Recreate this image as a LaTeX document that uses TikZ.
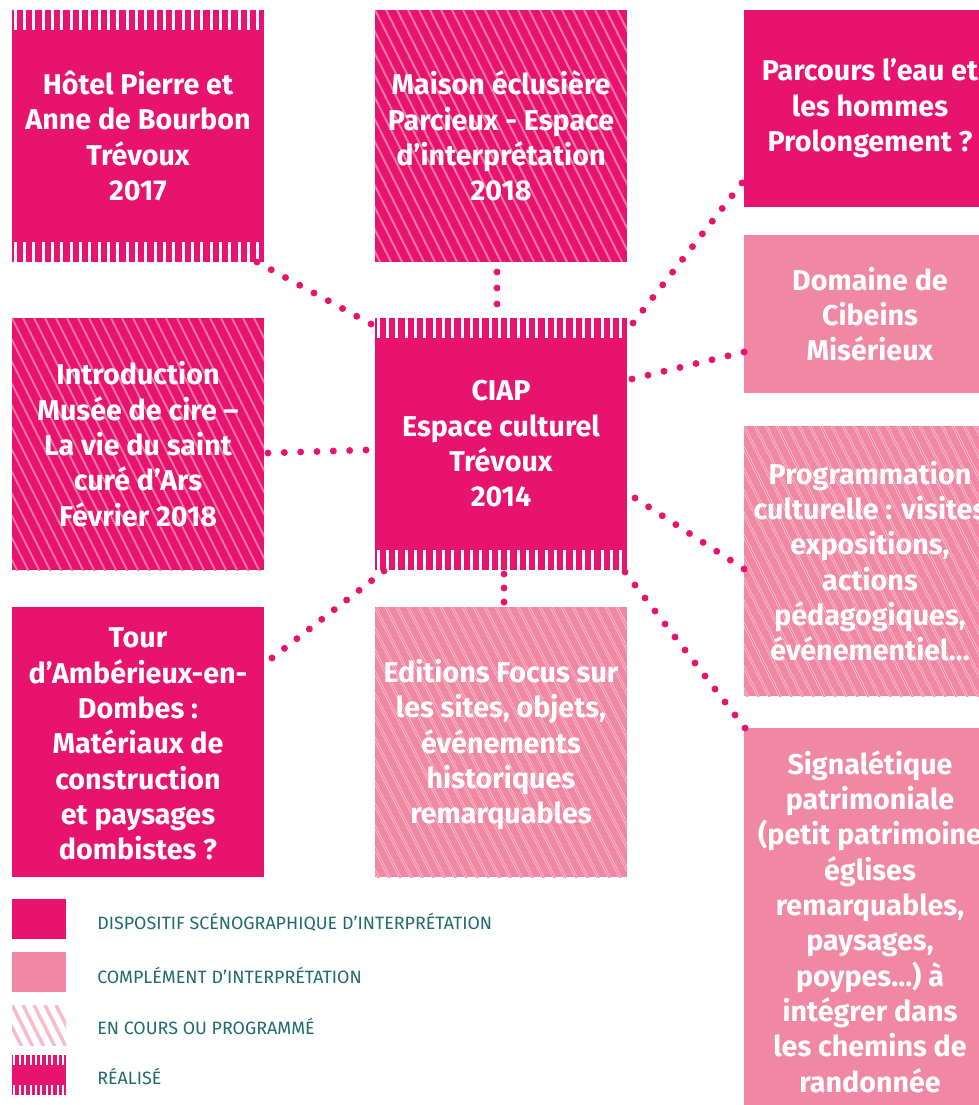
\documentclass[tikz,border=0pt]{standalone}
\usepackage{fontspec}
\setmainfont{Fira Sans}
\usetikzlibrary{calc}
\definecolor{pinkdark}{HTML}{E8126F}
\definecolor{pinklight}{HTML}{F088A3}
\definecolor{hatchondark}{HTML}{F2769F}
\definecolor{hatchlegend}{HTML}{F7BCCB}
\definecolor{legendtxt}{HTML}{1F6B70}
\tikzset{
  boxbase/.style={rectangle, inner sep=0pt, minimum width=189pt, draw=none},
  boxdark/.style={boxbase, fill=pinkdark},
  boxlight/.style={boxbase, fill=pinklight},
  boxtext/.style={align=center, text=white, inner sep=0pt,
    font=\bfseries\fontsize{21.5}{26.5}\selectfont},
  hatch/.style={path picture={
    \foreach \i in {-20,...,25}{
      \draw[#1] ([xshift=\i*8.25pt]path picture bounding box.north west) -- ++(160pt,-320pt);
    }}},
  hatchdarkbox/.style={hatch={hatchondark, line width=1.5pt}},
  hatchlightbox/.style={hatch={draw=white!55!pinklight, double=pinklight, double distance=0.9pt, line width=0.5pt}},
  fringe/.style={path picture={
    \foreach \k in {0,...,26}{
      \fill[white] ([xshift=\k*7pt+1.2pt]path picture bounding box.north west) rectangle ++(2.4pt,-15pt);
      \fill[white] ([xshift=\k*7pt+1.2pt]path picture bounding box.south west) rectangle ++(2.4pt,15pt);
    }}},
  fringesmall/.style={path picture={
    \foreach \k in {0,...,9}{
      \fill[white] ([xshift=\k*4.05pt+1pt]path picture bounding box.north west) rectangle ++(1.6pt,-7.5pt);
      \fill[white] ([xshift=\k*4.05pt+1pt]path picture bounding box.south west) rectangle ++(1.6pt,7.5pt);
    }}},
  legsw/.style={rectangle, inner sep=0pt, minimum width=40.5pt, minimum height=30pt, draw=none},
  legtxt/.style={anchor=west, inner sep=0pt, text=legendtxt, font=\fontsize{13.4}{15}\selectfont},
  dotc/.style={fill=pinkdark},
}
\newcommand\dotlink[3]{%
  \foreach \k in {0,...,#3}{\fill[dotc] ($(#1)!{\k/#3}!(#2)$) circle (2.6pt);}}
\begin{document}
\begin{tikzpicture}[x=0.75pt,y=-0.75pt]
\useasboundingbox (0,0) rectangle (978,1105);
\fill[white] (0,0) rectangle (978,1105);

% boxes
\node[boxdark, minimum height=189pt, fringe] (hotel) at (138,136) {};
\node[boxdark, minimum height=189pt, hatchdarkbox] (maison) at (501,136) {};
\node[boxdark, minimum height=147.75pt] (parcours) at (870,108.5) {};
\node[boxlight, minimum height=118.5pt] (domaine) at (870,314) {};
\node[boxdark, minimum height=189pt, hatchdarkbox] (intro) at (138,444) {};
\node[boxdark, minimum height=189pt, fringe] (ciap) at (501,444) {};
\node[boxlight, minimum height=202.5pt, hatchlightbox] (prog) at (870,561) {};
\node[boxdark, minimum height=202.5pt] (tour) at (138,742) {};
\node[boxlight, minimum height=202.5pt, hatchlightbox] (editions) at (501,742) {};
\node[boxlight, minimum height=290.25pt] (signal) at (870,921.5) {};

% texts
\node[boxtext] (hoteltxt) at (hotel) {Hôtel Pierre et\\Anne de Bourbon\\Trévoux\\2017};
\node[boxtext] (maisontxt) at (maison) {Maison éclusière\\Parcieux - Espace\\d’interprétation\\2018};
\node[boxtext] (parcourstxt) at (parcours) {Parcours l’eau et\\les hommes\\Prolongement ?};
\node[boxtext] (domainetxt) at (domaine) {Domaine de\\Cibeins\\Misérieux};
\node[boxtext] (introtxt) at (intro) {Introduction\\Musée de cire –\\La vie du saint\\curé d’Ars\\Février 2018};
\node[boxtext] (ciaptxt) at (ciap) {CIAP\\Espace culturel\\Trévoux\\2014};
\node[boxtext] (progtxt) at (prog) {Programmation\\culturelle : visites\\expositions,\\actions\\pédagogiques,\\événementiel…};
\node[boxtext] (tourtxt) at ([yshift=-1.5pt]tour.center) {Tour\\d’Ambérieux-en-\\Dombes :\\Matériaux de\\construction\\et paysages\\dombistes ?};
\node[boxtext] (editionstxt) at ([yshift=-2pt]editions.center) {Editions Focus sur\\les sites, objets,\\événements\\historiques\\remarquables};
\node[boxtext] (signaltxt) at (signal) {Signalétique\\patrimoniale\\(petit patrimoine\\églises\\remarquables,\\paysages,\\poypes…) à\\intégrer dans\\les chemins de\\randonnée};

% connector end points
\coordinate (h1) at (257,262);  \coordinate (h2) at (371,324);
\coordinate (m1) at (497,272);  \coordinate (m2) at (497,304);
\coordinate (p1) at (633,323);  \coordinate (p2) at (742,183);
\coordinate (d1) at (632,379);  \coordinate (d2) at (744,352);
\coordinate (g1) at (635,498);  \coordinate (g2) at (744,569);
\coordinate (s1) at (625,572);  \coordinate (s2) at (745,728);
\coordinate (i1) at (268,453);  \coordinate (i2) at (366,450);
\coordinate (t1) at (272,658);  \coordinate (t2) at (384,571);
\coordinate (e1) at (504,574);  \coordinate (e2) at (504,602);

\dotlink{h1}{h2}{8}
\dotlink{m1}{m2}{2}
\dotlink{p1}{p2}{11}
\dotlink{d1}{d2}{7}
\dotlink{g1}{g2}{8}
\dotlink{s1}{s2}{12}
\dotlink{i1}{i2}{6}
\dotlink{t1}{t2}{9}
\dotlink{e1}{e2}{2}

% legend
\node[legsw, fill=pinkdark] (leg1) at (39,919) {};
\node[legsw, fill=pinklight] (leg2) at (39,972) {};
\node[legsw, fill=white, hatch={hatchlegend, line width=2.6pt}] (leg3) at (39,1025) {};
\node[legsw, fill=pinkdark, fringesmall] (leg4) at (39,1075) {};
\node[legtxt] (legt1) at (97,922) {DISPOSITIF SCÉNOGRAPHIQUE D’INTERPRÉTATION};
\node[legtxt] (legt2) at (97,975) {COMPLÉMENT D’INTERPRÉTATION};
\node[legtxt] (legt3) at (97,1026) {EN COURS OU PROGRAMMÉ};
\node[legtxt] (legt4) at (97,1076) {RÉALISÉ};
\end{tikzpicture}
\end{document}
